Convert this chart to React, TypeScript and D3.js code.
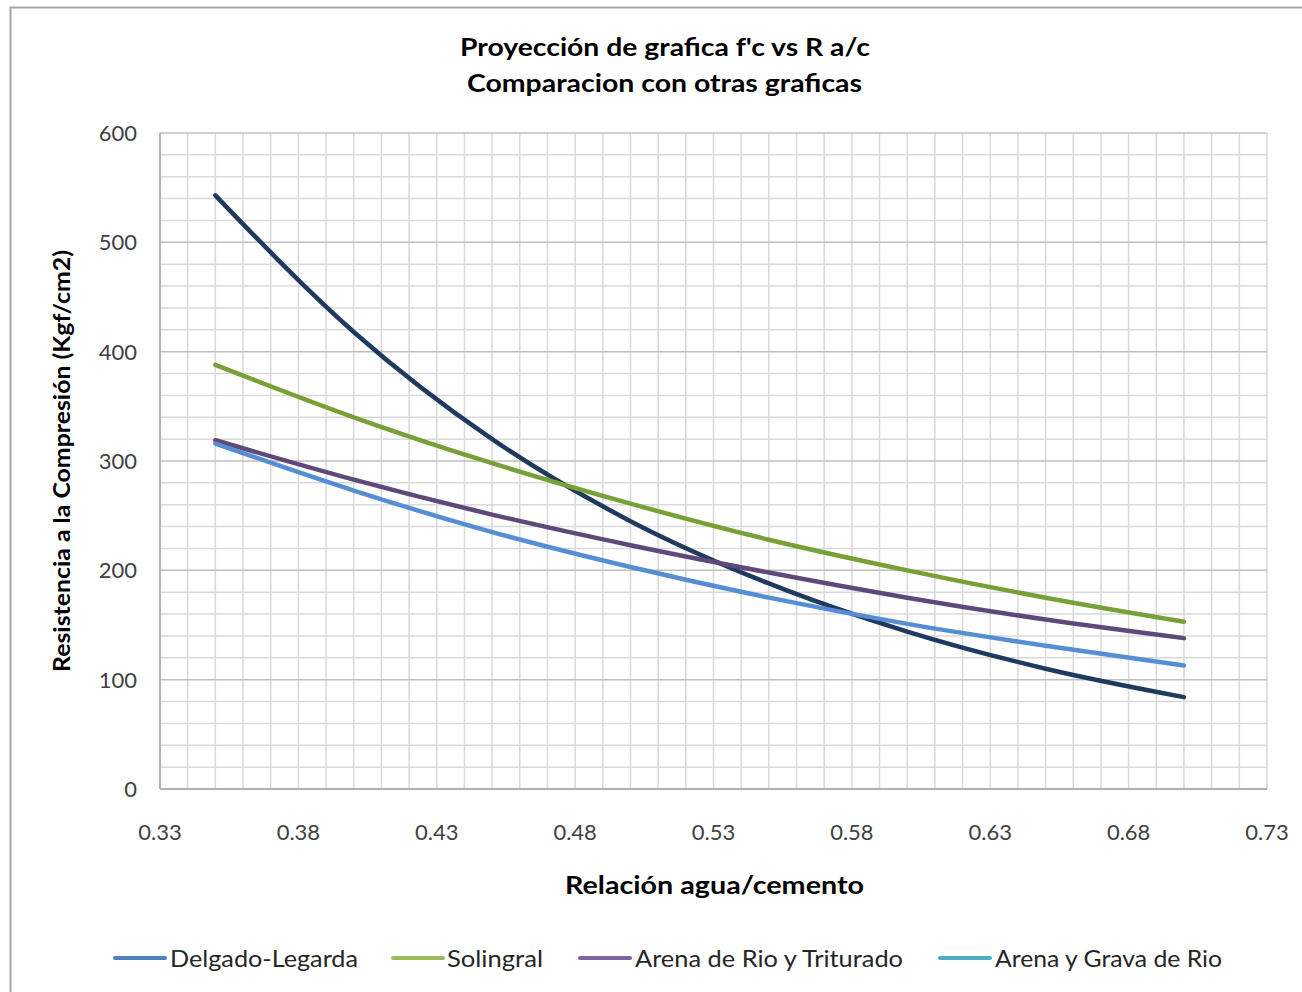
import React from "react";
import * as d3 from "d3";

const ratios = [0.35, 0.4, 0.45, 0.5, 0.55, 0.6, 0.65, 0.7];
const delgadoLegarda = [543, 418, 320, 245, 188, 144, 110, 84];
const solingral = [388, 340, 298, 261, 228, 200, 175, 153];
const arenaRioTriturado = [319, 283, 251, 223, 198, 175, 155, 138];
const arenaGravaRio = [316, 273, 235, 203, 175, 151, 131, 113];

const xTicks = [0.33, 0.38, 0.43, 0.48, 0.53, 0.58, 0.63, 0.68, 0.73];
const yTicks = [0, 100, 200, 300, 400, 500, 600];

const seriesNames = ["Delgado-Legarda", "Solingral", "Arena de Rio y Triturado", "Arena y Grava de Rio"];
const seriesValues = [delgadoLegarda, solingral, arenaRioTriturado, arenaGravaRio];
const lineColors = ["#1F3A5F", "#77A037", "#5F497A", "#558ED5"];
const legendColors = ["#4F81BD", "#9BBB59", "#8064A2", "#4BACC6"];

const title1 = "Proyección de grafica f'c vs R a/c";
const title2 = "Comparacion  con otras graficas";
const xTitle = "Relación agua/cemento";
const yTitle = "Resistencia a la Compresión (Kgf/cm2)";

const W = 1302;
const H = 992;
const left = 160;
const right = 1267;
const top = 133;
const bottom = 789;
const font = "Lato, 'Open Sans', sans-serif";

export default function App() {
  const x = d3.scaleLinear().domain([0.33, 0.73]).range([left, right]);
  const y = d3.scaleLinear().domain([0, 600]).range([bottom, top]);

  const xMinor = d3.range(0, 41).map((i) => 0.33 + i * 0.01);
  const yMinor = d3.range(0, 31).map((i) => i * 20);

  const line = d3
    .line<number>()
    .x((_, i) => x(ratios[i]))
    .y((d) => y(d))
    .curve(d3.curveMonotoneX);

  const legendItems = [
    { lx: 115, tx: 170, len: 188 },
    { lx: 393, tx: 447, len: 96 },
    { lx: 580, tx: 635, len: 268 },
    { lx: 940, tx: 995, len: 227 },
  ];

  return (
    <svg
      width={W}
      height={H}
      style={{ position: "absolute", left: 0, top: 0, background: "#fff" }}
      fontFamily={font}
    >
      <rect x={0} y={0} width={W} height={H} fill="#fff" />
      <rect x={10.5} y={7.5} width={W + 20} height={H + 20} fill="#fff" stroke="#A6A6A6" strokeWidth={2} />

      <text x={460} y={56} fontSize={25} fontWeight="bold" fill="#000" textLength={410} lengthAdjust="spacingAndGlyphs">
        {title1}
      </text>
      <text x={467} y={92} fontSize={25} fontWeight="bold" fill="#000" textLength={395} lengthAdjust="spacingAndGlyphs">
        {title2}
      </text>

      {xMinor.map((v, i) => (
        <line key={"vx" + i} x1={x(v)} x2={x(v)} y1={top} y2={bottom} stroke="#D9D9D9" strokeWidth={1.5} />
      ))}
      {yMinor.map((v, i) => (
        <line
          key={"hy" + i}
          x1={left}
          x2={right}
          y1={y(v)}
          y2={y(v)}
          stroke={v % 100 === 0 ? "#BFBFBF" : "#D9D9D9"}
          strokeWidth={1.5}
        />
      ))}
      <line x1={left} x2={left} y1={top} y2={bottom} stroke="#A6A6A6" strokeWidth={1.5} />
      <line x1={left} x2={right} y1={bottom} y2={bottom} stroke="#A6A6A6" strokeWidth={1.5} />

      {yTicks.map((v) => (
        <text key={"yt" + v} x={137} y={y(v) + 8} textAnchor="end" fontSize={22} fill="#404040">
          {v}
        </text>
      ))}
      {xTicks.map((v) => (
        <text key={"xt" + v} x={x(v)} y={840} textAnchor="middle" fontSize={22} fill="#404040">
          {v.toFixed(2)}
        </text>
      ))}

      <text x={565} y={894} fontSize={25} fontWeight="bold" fill="#000" textLength={299} lengthAdjust="spacingAndGlyphs">
        {xTitle}
      </text>
      <text
        transform={`translate(70, 672) rotate(-90)`}
        fontSize={22}
        fontWeight="bold"
        fill="#000"
        textLength={422}
        lengthAdjust="spacingAndGlyphs"
      >
        {yTitle}
      </text>

      {seriesValues.map((vals, i) => (
        <path
          key={"s" + i}
          d={line(vals) || ""}
          fill="none"
          stroke={lineColors[i]}
          strokeWidth={4.5}
          strokeLinecap="round"
        />
      ))}

      {seriesNames.map((name, i) => (
        <g key={"lg" + i}>
          <line
            x1={legendItems[i].lx}
            x2={legendItems[i].lx + 50}
            y1={958}
            y2={958}
            stroke={legendColors[i]}
            strokeWidth={4}
            strokeLinecap="round"
          />
          <text
            x={legendItems[i].tx}
            y={967}
            fontSize={24}
            fill="#262626"
            textLength={legendItems[i].len}
            lengthAdjust="spacingAndGlyphs"
          >
            {name}
          </text>
        </g>
      ))}
    </svg>
  );
}
